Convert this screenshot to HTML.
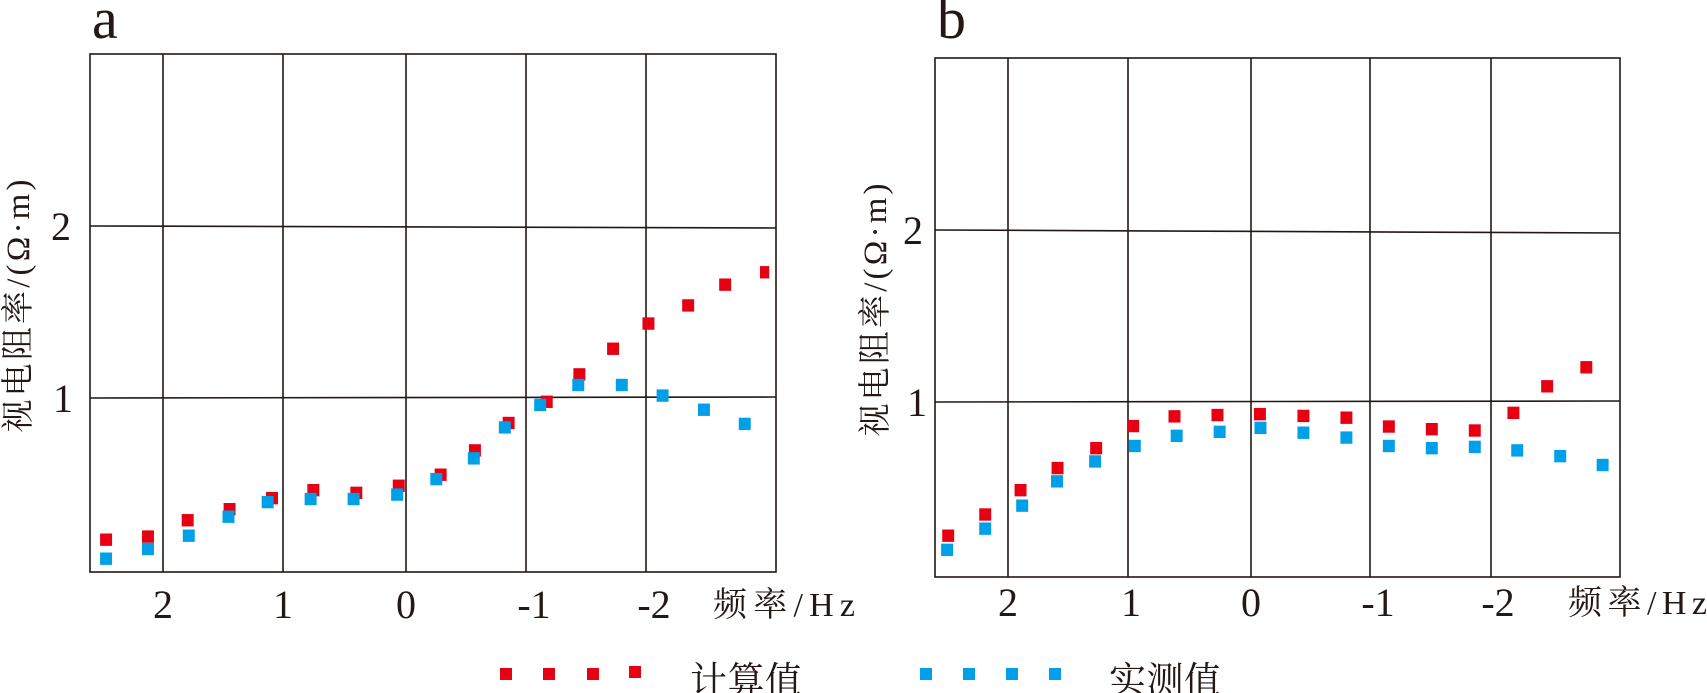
<!DOCTYPE html>
<html><head><meta charset="utf-8"><style>
html,body{margin:0;padding:0;background:#fff}
svg{display:block}
.t{font-family:"Liberation Serif","Noto Serif CJK SC",serif;fill:#231815}
</style></head><body>
<svg width="1707" height="693" viewBox="0 0 1707 693" xmlns="http://www.w3.org/2000/svg">
<!-- Panel a -->
<g stroke="#231815" stroke-width="1.6" fill="none">
<rect x="90" y="54" width="686" height="518"/>
<line x1="163" y1="54" x2="163" y2="572"/><line x1="283" y1="54" x2="283" y2="572"/>
<line x1="406" y1="54" x2="406" y2="572"/><line x1="526" y1="54" x2="526" y2="572"/>
<line x1="646" y1="54" x2="646" y2="572"/>
<line x1="90" y1="226" x2="776" y2="228"/><line x1="90" y1="398" x2="776" y2="397"/>
</g>
<g transform="scale(0.544,0.442)">
<g fill="#e60012">
<rect x="184" y="1207" width="22" height="28"/><rect x="261" y="1200" width="22" height="28"/><rect x="334" y="1163" width="22" height="28"/><rect x="411" y="1138" width="22" height="28"/><rect x="489" y="1113" width="22" height="28"/><rect x="565" y="1095" width="22" height="28"/><rect x="644" y="1101" width="22" height="28"/><rect x="722" y="1085" width="22" height="28"/><rect x="799" y="1060" width="22" height="28"/><rect x="862" y="1005" width="22" height="28"/><rect x="924" y="943" width="22" height="28"/><rect x="994" y="895" width="22" height="28"/><rect x="1054" y="833" width="22" height="28"/><rect x="1116" y="775" width="22" height="28"/><rect x="1181" y="718" width="22" height="28"/><rect x="1254" y="677" width="22" height="28"/><rect x="1322" y="630" width="22" height="28"/><rect x="1397" y="602" width="17" height="28"/>
</g>
<g fill="#00a0e9">
<rect x="184" y="1250" width="22" height="28"/><rect x="261" y="1228" width="22" height="28"/><rect x="336" y="1198" width="22" height="28"/><rect x="409" y="1155" width="22" height="28"/><rect x="481" y="1122" width="22" height="28"/><rect x="560" y="1115" width="22" height="28"/><rect x="639" y="1115" width="22" height="28"/><rect x="719" y="1105" width="22" height="28"/><rect x="791" y="1070" width="22" height="28"/><rect x="860" y="1023" width="22" height="28"/><rect x="917" y="953" width="22" height="28"/><rect x="982" y="902" width="22" height="28"/><rect x="1052" y="857" width="22" height="28"/><rect x="1132" y="857" width="22" height="28"/><rect x="1207" y="881" width="22" height="28"/><rect x="1283" y="913" width="22" height="28"/><rect x="1358" y="945" width="22" height="28"/>
</g>
</g>
<text class="t" x="92" y="38" font-size="58">a</text>
<text class="t" x="61" y="240" font-size="40" text-anchor="middle">2</text>
<text class="t" x="63" y="412" font-size="40" text-anchor="middle">1</text>
<text class="t" font-size="33" text-anchor="middle" textLength="253" lengthAdjust="spacing" transform="translate(29,306) rotate(-90)">视电阻率/(Ω·m)</text>
<g class="t" font-size="40" text-anchor="middle">
<text x="163" y="618">2</text><text x="283" y="618">1</text><text x="406" y="618">0</text><text x="534" y="618">-1</text><text x="654" y="618">-2</text>
</g>
<text class="t" x="713" y="616" font-size="34" textLength="142" lengthAdjust="spacing">频率/Hz</text>
<!-- Panel b -->
<g stroke="#231815" stroke-width="1.6" fill="none">
<rect x="935" y="58" width="685" height="519"/>
<line x1="1008" y1="58" x2="1008" y2="577"/><line x1="1128" y1="58" x2="1128" y2="577"/>
<line x1="1251" y1="58" x2="1251" y2="577"/><line x1="1370" y1="58" x2="1370" y2="577"/>
<line x1="1491" y1="58" x2="1491" y2="577"/>
<line x1="935" y1="230" x2="1620" y2="233"/><line x1="935" y1="402" x2="1620" y2="401"/>
</g>
<g transform="translate(853,0) scale(0.544,0.442)">
<g fill="#e60012">
<rect x="164" y="1198" width="22" height="28"/><rect x="232" y="1150" width="22" height="28"/><rect x="297" y="1095" width="22" height="28"/><rect x="365" y="1045" width="22" height="28"/><rect x="436" y="1000" width="22" height="28"/><rect x="504" y="950" width="22" height="28"/><rect x="580" y="928" width="22" height="28"/><rect x="659" y="925" width="22" height="28"/><rect x="737" y="923" width="22" height="28"/><rect x="817" y="927" width="22" height="28"/><rect x="896" y="931" width="22" height="28"/><rect x="974" y="951" width="22" height="28"/><rect x="1053" y="957" width="22" height="28"/><rect x="1132" y="960" width="22" height="28"/><rect x="1203" y="920" width="22" height="28"/><rect x="1265" y="860" width="22" height="28"/><rect x="1337" y="817" width="22" height="28"/>
</g>
<g fill="#00a0e9">
<rect x="162" y="1230" width="22" height="28"/><rect x="232" y="1182" width="22" height="28"/><rect x="300" y="1130" width="22" height="28"/><rect x="364" y="1075" width="22" height="28"/><rect x="434" y="1030" width="22" height="28"/><rect x="507" y="995" width="22" height="28"/><rect x="584" y="972" width="22" height="28"/><rect x="663" y="963" width="22" height="28"/><rect x="738" y="954" width="22" height="28"/><rect x="817" y="965" width="22" height="28"/><rect x="896" y="976" width="22" height="28"/><rect x="974" y="995" width="22" height="28"/><rect x="1053" y="1000" width="22" height="28"/><rect x="1132" y="997" width="22" height="28"/><rect x="1210" y="1005" width="22" height="28"/><rect x="1289" y="1018" width="22" height="28"/><rect x="1367" y="1038" width="22" height="28"/>
</g>
</g>
<text class="t" x="937" y="38" font-size="58">b</text>
<text class="t" x="913" y="244" font-size="40" text-anchor="middle">2</text>
<text class="t" x="917" y="416" font-size="40" text-anchor="middle">1</text>
<text class="t" font-size="33" text-anchor="middle" textLength="253" lengthAdjust="spacing" transform="translate(886,310) rotate(-90)">视电阻率/(Ω·m)</text>
<g class="t" font-size="40" text-anchor="middle">
<text x="1008" y="616">2</text><text x="1131" y="616">1</text><text x="1251" y="616">0</text><text x="1378" y="616">-1</text><text x="1498" y="616">-2</text>
</g>
<text class="t" x="1568" y="614" font-size="34" textLength="139" lengthAdjust="spacing">频率/Hz</text>
<!-- Legend -->
<g fill="#e60012"><rect x="500" y="668" width="12" height="12"/><rect x="543" y="668" width="12" height="12"/><rect x="587" y="668" width="12" height="12"/><rect x="629" y="666" width="12" height="12"/></g>
<text class="t" x="690" y="693" font-size="37" textLength="112" lengthAdjust="spacing">计算值</text>
<g fill="#00a0e9"><rect x="920" y="668" width="12" height="12"/><rect x="963" y="668" width="12" height="12"/><rect x="1006" y="668" width="12" height="12"/><rect x="1049" y="668" width="12" height="12"/></g>
<text class="t" x="1109" y="693" font-size="37" textLength="112" lengthAdjust="spacing">实测值</text>
</svg>
</body></html>
